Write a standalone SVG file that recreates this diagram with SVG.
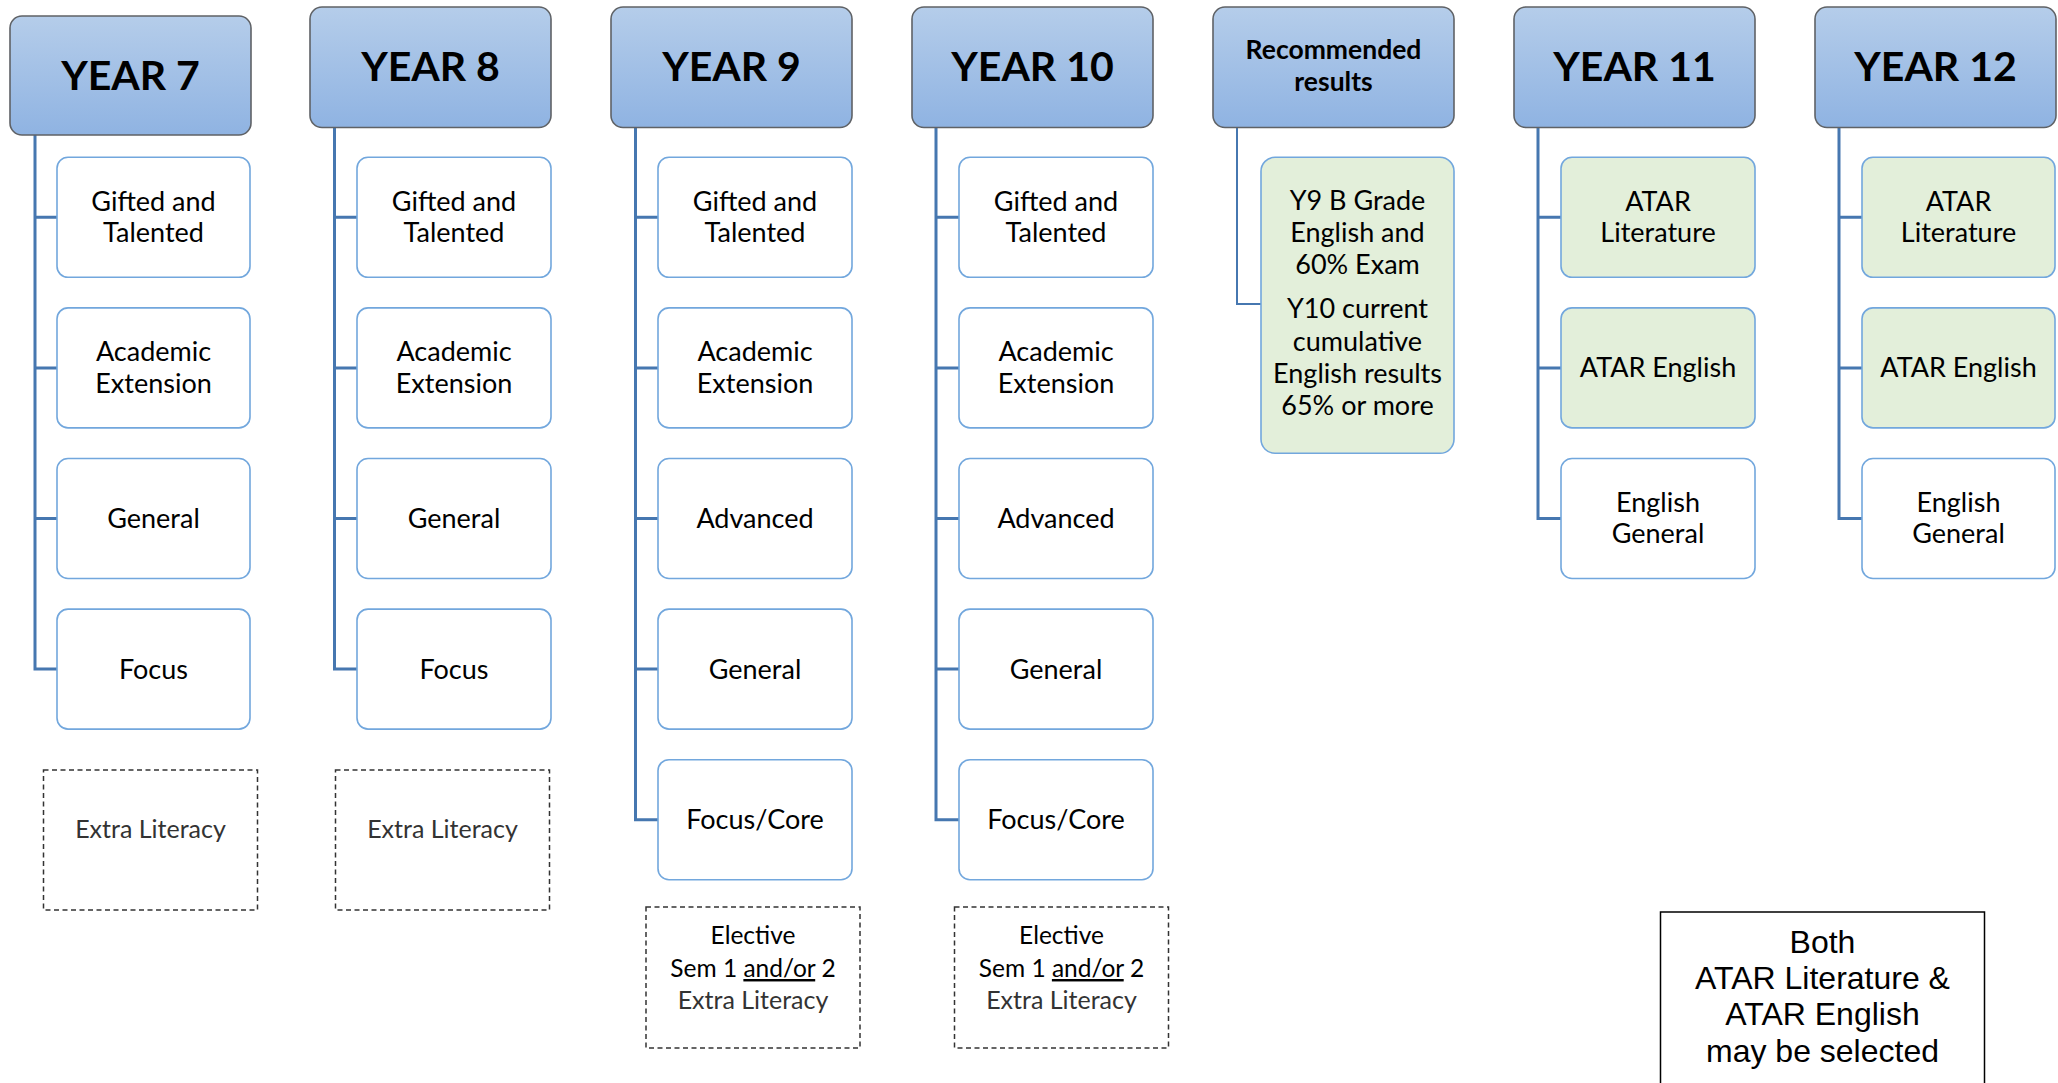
<svg xmlns="http://www.w3.org/2000/svg" width="2058" height="1083" viewBox="0 0 2058 1083">
<defs>
<linearGradient id="hg" x1="0" y1="0" x2="0" y2="1">
<stop offset="0" stop-color="#b5cdea"/>
<stop offset="1" stop-color="#8fb3e2"/>
</linearGradient>
<style>
.hdr{fill:url(#hg);stroke:#5f6266;stroke-width:1.6}
.box{fill:#fff;stroke:#72a7dd;stroke-width:1.6}
.gbox{fill:#e3efda;stroke:#72a7dd;stroke-width:1.6}
.conn{fill:none;stroke:#4677b0;stroke-width:3}
.conn2{fill:none;stroke:#4677b0;stroke-width:2}
.dash{fill:#fff;stroke:#333;stroke-width:1.5;stroke-dasharray:5 3.5}
.note{fill:#fff;stroke:#000;stroke-width:1.5}
text{font-family:Lato,"Open Sans",sans-serif;text-anchor:middle;fill:#000}
.t{font-size:27px}
.title{font-size:41px;font-weight:700}
.rec{font-size:26.5px;font-weight:700}
.lit{font-size:25px;font-weight:400;fill:#333}
.el{font-size:24.5px}
.nt{font-family:"Liberation Sans",Arial,sans-serif;font-size:32px}
</style>
</defs>
<rect width="2058" height="1083" fill="#fff"/>

<g id="connectors">
<path class="conn" d="M35 135 V669.1 H57 M35 217.3 H57 M35 367.9 H57 M35 518.5 H57"/>
<path class="conn" d="M334.5 127.5 V669.1 H357 M334.5 217.3 H357 M334.5 367.9 H357 M334.5 518.5 H357"/>
<path class="conn" d="M635.5 127.5 V819.7 H658 M635.5 217.3 H658 M635.5 367.9 H658 M635.5 518.5 H658 M635.5 669.1 H658"/>
<path class="conn" d="M936 127.5 V819.7 H959 M936 217.3 H959 M936 367.9 H959 M936 518.5 H959 M936 669.1 H959"/>
<path class="conn2" d="M1237 127.5 V304 H1261"/>
<path class="conn" d="M1538 127.5 V518.5 H1561 M1538 217.3 H1561 M1538 367.9 H1561"/>
<path class="conn" d="M1839 127.5 V518.5 H1862 M1839 217.3 H1862 M1839 367.9 H1862"/>
</g>

<g id="year7">
<rect class="hdr" x="10" y="16" width="241" height="119" rx="12"/>
<text class="title" x="130.5" y="89.5">YEAR 7</text>
</g>
<g id="y7-gifted"><rect class="box" x="57" y="157.3" width="193" height="120" rx="11"/><text class="t" x="153.5" y="210.8">Gifted and</text><text class="t" x="153.5" y="242.3">Talented</text></g>
<g id="y7-academic"><rect class="box" x="57" y="307.9" width="193" height="120" rx="11"/><text class="t" x="153.5" y="361.4">Academic</text><text class="t" x="153.5" y="392.9">Extension</text></g>
<g id="y7-general"><rect class="box" x="57" y="458.5" width="193" height="120" rx="11"/><text class="t" x="153.5" y="528">General</text></g>
<g id="y7-focus"><rect class="box" x="57" y="609.1" width="193" height="120" rx="11"/><text class="t" x="153.5" y="678.6">Focus</text></g>
<g id="y7-extra"><rect class="dash" x="43.5" y="770" width="214" height="140"/><text class="lit" x="150.5" y="838">Extra Literacy</text></g>

<g id="year8">
<rect class="hdr" x="310" y="7" width="241" height="120.5" rx="12"/>
<text class="title" x="430.5" y="81">YEAR 8</text>
</g>
<g id="y8-gifted"><rect class="box" x="357" y="157.3" width="194" height="120" rx="11"/><text class="t" x="454" y="210.8">Gifted and</text><text class="t" x="454" y="242.3">Talented</text></g>
<g id="y8-academic"><rect class="box" x="357" y="307.9" width="194" height="120" rx="11"/><text class="t" x="454" y="361.4">Academic</text><text class="t" x="454" y="392.9">Extension</text></g>
<g id="y8-general"><rect class="box" x="357" y="458.5" width="194" height="120" rx="11"/><text class="t" x="454" y="528">General</text></g>
<g id="y8-focus"><rect class="box" x="357" y="609.1" width="194" height="120" rx="11"/><text class="t" x="454" y="678.6">Focus</text></g>
<g id="y8-extra"><rect class="dash" x="335.5" y="770" width="214" height="140"/><text class="lit" x="442.5" y="838">Extra Literacy</text></g>

<g id="year9">
<rect class="hdr" x="611" y="7" width="241" height="120.5" rx="12"/>
<text class="title" x="731.5" y="81">YEAR 9</text>
</g>
<g id="y9-gifted"><rect class="box" x="658" y="157.3" width="194" height="120" rx="11"/><text class="t" x="755" y="210.8">Gifted and</text><text class="t" x="755" y="242.3">Talented</text></g>
<g id="y9-academic"><rect class="box" x="658" y="307.9" width="194" height="120" rx="11"/><text class="t" x="755" y="361.4">Academic</text><text class="t" x="755" y="392.9">Extension</text></g>
<g id="y9-advanced"><rect class="box" x="658" y="458.5" width="194" height="120" rx="11"/><text class="t" x="755" y="528">Advanced</text></g>
<g id="y9-general"><rect class="box" x="658" y="609.1" width="194" height="120" rx="11"/><text class="t" x="755" y="678.6">General</text></g>
<g id="y9-focus"><rect class="box" x="658" y="759.7" width="194" height="120" rx="11"/><text class="t" x="755" y="829.2">Focus/Core</text></g>
<g id="y9-elective"><rect class="dash" x="646" y="907" width="214" height="141"/>
<text class="el" x="753" y="944">Elective</text>
<text class="el" x="753" y="977">Sem 1 <tspan style="text-decoration:underline">and/or</tspan> 2</text>
<text class="lit" x="753" y="1009">Extra Literacy</text></g>

<g id="year10">
<rect class="hdr" x="912" y="7" width="241" height="120.5" rx="12"/>
<text class="title" x="1032.5" y="81">YEAR 10</text>
</g>
<g id="y10-gifted"><rect class="box" x="959" y="157.3" width="194" height="120" rx="11"/><text class="t" x="1056" y="210.8">Gifted and</text><text class="t" x="1056" y="242.3">Talented</text></g>
<g id="y10-academic"><rect class="box" x="959" y="307.9" width="194" height="120" rx="11"/><text class="t" x="1056" y="361.4">Academic</text><text class="t" x="1056" y="392.9">Extension</text></g>
<g id="y10-advanced"><rect class="box" x="959" y="458.5" width="194" height="120" rx="11"/><text class="t" x="1056" y="528">Advanced</text></g>
<g id="y10-general"><rect class="box" x="959" y="609.1" width="194" height="120" rx="11"/><text class="t" x="1056" y="678.6">General</text></g>
<g id="y10-focus"><rect class="box" x="959" y="759.7" width="194" height="120" rx="11"/><text class="t" x="1056" y="829.2">Focus/Core</text></g>
<g id="y10-elective"><rect class="dash" x="954.5" y="907" width="214" height="141"/>
<text class="el" x="1061.5" y="944">Elective</text>
<text class="el" x="1061.5" y="977">Sem 1 <tspan style="text-decoration:underline">and/or</tspan> 2</text>
<text class="lit" x="1061.5" y="1009">Extra Literacy</text></g>

<g id="recommended">
<rect class="hdr" x="1213" y="7" width="241" height="120.5" rx="12"/>
<text class="rec" x="1333.5" y="59">Recommended</text>
<text class="rec" x="1333.5" y="90.5">results</text>
</g>
<g id="rec-results"><rect class="gbox" x="1261" y="157.3" width="193" height="296" rx="14"/>
<text class="t" x="1357.5" y="210">Y9 B Grade</text>
<text class="t" x="1357.5" y="242">English and</text>
<text class="t" x="1357.5" y="274">60% Exam</text>
<text class="t" x="1357.5" y="318">Y10 current</text>
<text class="t" x="1357.5" y="350.5">cumulative</text>
<text class="t" x="1357.5" y="383">English results</text>
<text class="t" x="1357.5" y="415">65% or more</text>
</g>

<g id="year11">
<rect class="hdr" x="1514" y="7" width="241" height="120.5" rx="12"/>
<text class="title" x="1634.5" y="81">YEAR 11</text>
</g>
<g id="y11-lit"><rect class="gbox" x="1561" y="157.3" width="194" height="120" rx="11"/><text class="t" x="1658" y="210.8">ATAR</text><text class="t" x="1658" y="242.3">Literature</text></g>
<g id="y11-eng"><rect class="gbox" x="1561" y="307.9" width="194" height="120" rx="11"/><text class="t" x="1658" y="377">ATAR English</text></g>
<g id="y11-gen"><rect class="box" x="1561" y="458.5" width="194" height="120" rx="11"/><text class="t" x="1658" y="511.5">English</text><text class="t" x="1658" y="543">General</text></g>

<g id="year12">
<rect class="hdr" x="1815" y="7" width="241" height="120.5" rx="12"/>
<text class="title" x="1935.5" y="81">YEAR 12</text>
</g>
<g id="y12-lit"><rect class="gbox" x="1862" y="157.3" width="193" height="120" rx="11"/><text class="t" x="1958.5" y="210.8">ATAR</text><text class="t" x="1958.5" y="242.3">Literature</text></g>
<g id="y12-eng"><rect class="gbox" x="1862" y="307.9" width="193" height="120" rx="11"/><text class="t" x="1958.5" y="377">ATAR English</text></g>
<g id="y12-gen"><rect class="box" x="1862" y="458.5" width="193" height="120" rx="11"/><text class="t" x="1958.5" y="511.5">English</text><text class="t" x="1958.5" y="543">General</text></g>

<g id="note">
<rect class="note" x="1660.5" y="912" width="324" height="190"/>
<text class="nt" x="1822.5" y="952.5">Both</text>
<text class="nt" x="1822.5" y="988.5">ATAR Literature &amp;</text>
<text class="nt" x="1822.5" y="1025">ATAR English</text>
<text class="nt" x="1822.5" y="1061.5">may be selected</text>
</g>
</svg>
